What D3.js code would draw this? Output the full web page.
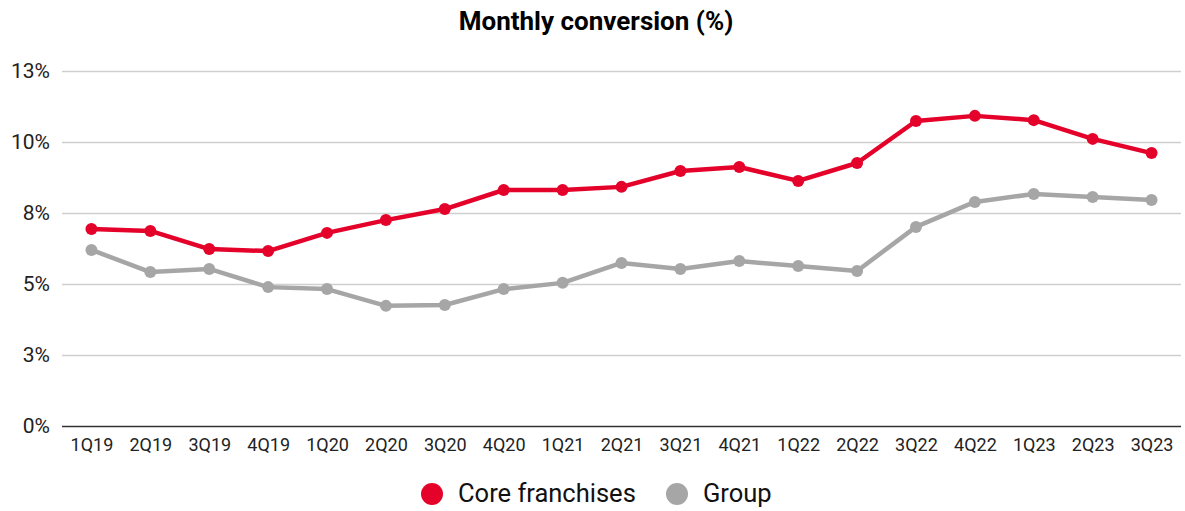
<!DOCTYPE html>
<html>
<head>
<meta charset="utf-8">
<script src="https://cdn.jsdelivr.net/npm/d3@7"></script>
<style>
  body { margin: 0; background: #fff; }
  svg { font-family: Roboto, "Noto Sans", sans-serif; }
</style>
</head>
<body>
<script>
var quarters = ["1Q19","2Q19","3Q19","4Q19","1Q20","2Q20","3Q20","4Q20","1Q21","2Q21",
                "3Q21","4Q21","1Q22","2Q22","3Q22","4Q22","1Q23","2Q23","3Q23"];
var coreValues = [6.94,6.87,6.23,6.16,6.80,7.25,7.64,8.31,8.31,8.42,
                  8.98,9.12,8.63,9.26,10.74,10.92,10.77,10.11,9.61];
var groupValues = [6.20,5.42,5.53,4.89,4.82,4.23,4.26,4.82,5.04,5.74,
                   5.53,5.81,5.63,5.46,7.01,7.89,8.17,8.06,7.96];
var yTicks = [0, 2.5, 5, 7.5, 10, 12.5];
var seriesNames = ["Core franchises", "Group"];
var seriesColors = ["#e4022b", "#a6a6a6"];

var w = 1185, h = 511;
var plotLeft = 62, plotRight = 1181, plotTop = 71, plotBottom = 426;

var svg = d3.select("body").append("svg")
  .attr("width", w)
  .attr("height", h);

var x = d3.scalePoint()
  .domain(quarters)
  .range([plotLeft, plotRight])
  .padding(0.5);

var y = d3.scaleLinear()
  .domain([0, 12.5])
  .range([plotBottom, plotTop]);

// title
svg.append("text")
  .attr("x", 596)
  .attr("y", 30)
  .attr("text-anchor", "middle")
  .style("font-size", "26px")
  .style("font-weight", "bold")
  .style("fill", "#000")
  .text("Monthly conversion (%)");

// grid + y labels
var yAxis = d3.axisLeft(y)
  .tickValues(yTicks)
  .tickSize(-(plotRight - plotLeft))
  .tickPadding(12)
  .tickFormat(function(d) { return Math.round(d) + "%"; });

var yg = svg.append("g")
  .attr("transform", "translate(" + plotLeft + ",0)")
  .call(yAxis);
yg.select(".domain").remove();
yg.selectAll(".tick line")
  .style("stroke", function(d) { return d == 0 ? "#333" : "#cfcfcf"; })
  .style("stroke-width", function(d) { return d == 0 ? 1.5 : 1.3; });
yg.selectAll(".tick text")
  .style("font-size", "21px")
  .style("fill", "#222")
  .style("font-family", "Roboto, sans-serif");

// x labels
var xg = svg.append("g")
  .attr("transform", "translate(0," + plotBottom + ")")
  .call(d3.axisBottom(x).tickSize(0).tickPadding(12));
xg.select(".domain").remove();
xg.selectAll(".tick text")
  .style("font-size", "18px")
  .style("fill", "#222")
  .style("font-family", "Roboto, sans-serif");

var line = d3.line()
  .x(function(d, i) { return x(quarters[i]); })
  .y(function(d) { return y(d); });

var allSeries = [coreValues, groupValues];
// draw group first so core sits on top
for (var s = allSeries.length - 1; s >= 0; s--) {
  var g = svg.append("g");
  g.append("path")
    .datum(allSeries[s])
    .attr("d", line)
    .style("fill", "none")
    .style("stroke", seriesColors[s])
    .style("stroke-width", 4.5)
    .style("stroke-linejoin", "round");
  g.selectAll("circle")
      .data(allSeries[s])
    .enter().append("circle")
      .attr("cx", function(d, i) { return x(quarters[i]); })
      .attr("cy", function(d) { return y(d); })
      .attr("r", 6)
      .style("fill", seriesColors[s]);
}

// legend
var legendX = [432, 677];
for (var i = 0; i < seriesNames.length; i++) {
  svg.append("circle")
    .attr("cx", legendX[i])
    .attr("cy", 494)
    .attr("r", 11)
    .style("fill", seriesColors[i]);
  svg.append("text")
    .attr("x", legendX[i] + 26)
    .attr("y", 502)
    .style("font-size", "25.5px")
    .style("fill", "#111")
    .text(seriesNames[i]);
}
</script>
</body>
</html>
